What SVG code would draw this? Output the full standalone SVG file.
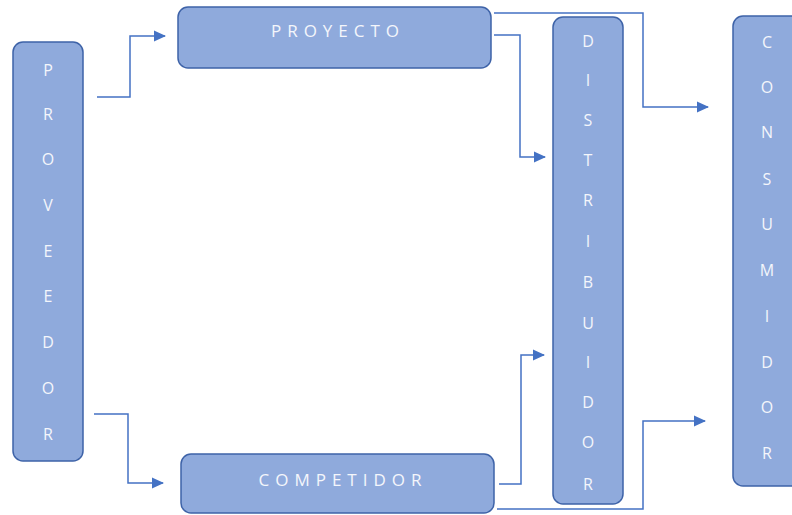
<svg xmlns="http://www.w3.org/2000/svg" width="792" height="515" viewBox="0 0 792 515">
<style>
.box{fill:#8FAADC;stroke:#3E63A8;stroke-width:1.5}
.t{fill:#F4F6FB;font-family:"Open Sans","Liberation Sans",sans-serif;font-size:16px;text-anchor:middle}
.h{letter-spacing:6px;font-size:17px}
.c{fill:none;stroke:#4472C4;stroke-width:1.5;marker-end:url(#ah)}
</style>
<defs>
<marker id="ah" markerWidth="12" markerHeight="12" refX="11" refY="6" orient="auto" markerUnits="userSpaceOnUse">
<path d="M0,0.5 L12,6 L0,11.5 Z" fill="#4472C4"/>
</marker>
</defs>
<rect width="792" height="515" fill="#FFFFFF"/>
<g id="connectors">
<path class="c" d="M97,97 H130 V36 H165"/>
<path class="c" d="M94,414 H128 V483 H163"/>
<path class="c" d="M494,13 H643 V107 H708"/>
<path class="c" d="M494,35 H520 V157 H545"/>
<path class="c" d="M499,484 H521 V355 H544"/>
<path class="c" d="M497,509 H643 V421 H705"/>
</g>
<g id="proveedor">
<rect class="box" x="13" y="42" width="70" height="419" rx="10"/>
<text class="t" x="48" y="76">P</text>
<text class="t" x="48" y="120">R</text>
<text class="t" x="48" y="165">O</text>
<text class="t" x="48" y="211">V</text>
<text class="t" x="48" y="257">E</text>
<text class="t" x="48" y="302">E</text>
<text class="t" x="48" y="348">D</text>
<text class="t" x="48" y="394">O</text>
<text class="t" x="48" y="440">R</text>
</g>
<g id="proyecto">
<rect class="box" x="178" y="7" width="313" height="61" rx="10"/>
<text class="t h" x="338" y="37">PROYECTO</text>
</g>
<g id="competidor">
<rect class="box" x="181" y="454" width="313" height="59" rx="10"/>
<text class="t h" x="343" y="486">COMPETIDOR</text>
</g>
<g id="distribuidor">
<rect class="box" x="553" y="17" width="70" height="487" rx="10"/>
<text class="t" x="588" y="47">D</text>
<text class="t" x="588" y="86">I</text>
<text class="t" x="588" y="126">S</text>
<text class="t" x="588" y="166">T</text>
<text class="t" x="588" y="206">R</text>
<text class="t" x="588" y="247">I</text>
<text class="t" x="588" y="288">B</text>
<text class="t" x="588" y="329">U</text>
<text class="t" x="588" y="368">I</text>
<text class="t" x="588" y="408">D</text>
<text class="t" x="588" y="448">O</text>
<text class="t" x="588" y="490">R</text>
</g>
<g id="consumidor">
<rect class="box" x="733" y="16" width="72" height="470" rx="10"/>
<text class="t" x="767" y="48">C</text>
<text class="t" x="767" y="93">O</text>
<text class="t" x="767" y="138">N</text>
<text class="t" x="767" y="185">S</text>
<text class="t" x="767" y="230">U</text>
<text class="t" x="767" y="276">M</text>
<text class="t" x="767" y="322">I</text>
<text class="t" x="767" y="368">D</text>
<text class="t" x="767" y="413">O</text>
<text class="t" x="767" y="459">R</text>
</g>
</svg>
